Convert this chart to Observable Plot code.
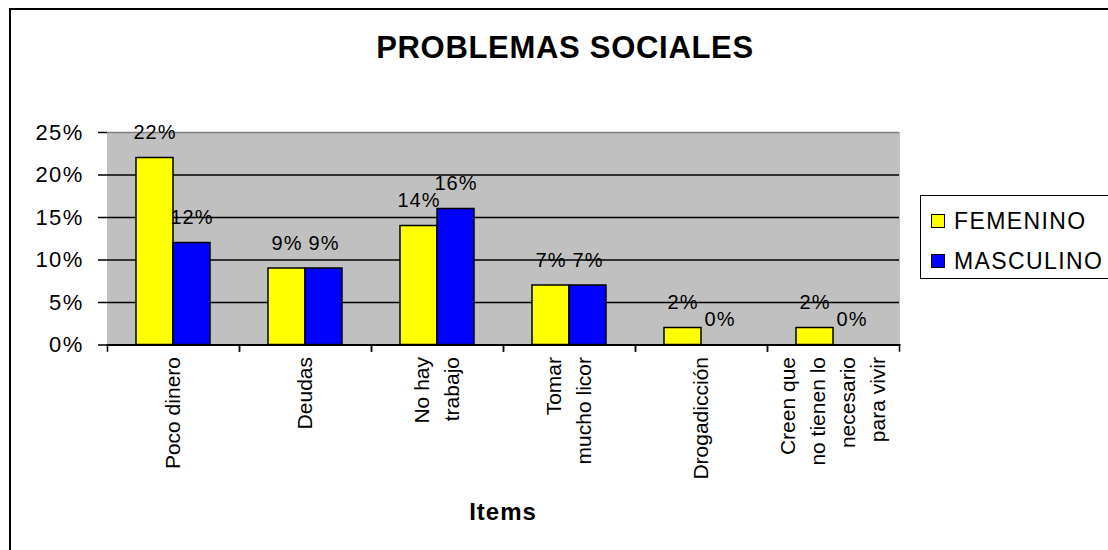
<!DOCTYPE html>
<html><head><meta charset="utf-8">
<script src="https://cdn.jsdelivr.net/npm/d3@7"></script>
<script src="https://cdn.jsdelivr.net/npm/@observablehq/plot@0.6"></script>
<style>
body{margin:0;background:#fff;font-family:"Liberation Sans",Arial,sans-serif;}
#wrap{position:relative;width:1108px;height:550px;overflow:hidden;background:#fff;}
#border{position:absolute;left:9px;top:8px;width:1200px;height:700px;border-left:2px solid #000;border-top:2px solid #000;}
#chart{position:absolute;left:0;top:0;}
#title{position:absolute;left:265px;width:600px;top:32px;line-height:31px;text-align:center;font-weight:bold;font-size:31px;letter-spacing:0.7px;color:#000;}
#xlabel{position:absolute;left:303px;width:400px;top:500px;line-height:24px;text-align:center;font-weight:bold;font-size:24px;letter-spacing:1px;color:#000;}
#legend{position:absolute;left:920px;top:195px;width:300px;height:82px;border:1.5px solid #000;background:#fff;}
.item{position:absolute;left:10px;font-size:23px;line-height:23px;color:#000;}
.sw{position:absolute;left:0;top:4px;width:12px;height:12px;border:1.5px solid #000;}
.lt{position:absolute;left:23px;top:0;white-space:nowrap;letter-spacing:1.4px;}
#chart g[aria-label="y-axis tick label"] text{letter-spacing:1.3px;}
#chart g[aria-label="text"] text{letter-spacing:1px;}
#chart g[aria-label="frame"] rect{shape-rendering:crispEdges;}
</style>
</head><body>
<div id="wrap">
  <div id="border"></div>
  <div id="chart"></div>
  <div id="title">PROBLEMAS SOCIALES</div>
  <div id="xlabel">Items</div>
  <div id="legend"></div>
</div>
<script>
const categories = ["Poco dinero", "Deudas", "No hay\ntrabajo", "Tomar\nmucho licor", "Drogadicción", "Creen que\nno tienen lo\nnecesario\npara vivir"];
const series = ["FEMENINO", "MASCULINO"];
const femenino = [22, 9, 14, 7, 2, 2];
const masculino = [12, 9, 16, 7, 0, 0];
const yTicks = [0, 5, 10, 15, 20, 25];
const gridValues = [5, 10, 15, 20];
const colors = ["#ffff00", "#0000ff"];

const data = categories.flatMap((c, i) => [
  {cat: c, sex: series[0], value: femenino[i]},
  {cat: c, sex: series[1], value: masculino[i]}
]);

const W = 1108, H = 550, mL = 107, mR = 209, mT = 132, mB = 205.5;
const innerH = H - mT - mB;

const chart = Plot.plot({
  width: W, height: H,
  marginLeft: mL, marginRight: mR, marginTop: mT, marginBottom: mB,
  style: {fontFamily: "'Liberation Sans', Arial, sans-serif", background: "transparent", overflow: "visible", color: "#000"},
  fx: {domain: categories, padding: 0, label: null},
  x: {domain: series, paddingInner: 0, paddingOuter: 0.737, axis: null},
  y: {domain: [0, 25], label: null},
  color: {domain: series, range: colors},
  marks: [
    Plot.frame({fill: "#c0c0c0", stroke: "#c0c0c0", strokeWidth: 1}),
    Plot.ruleY(gridValues, {stroke: "#000", strokeWidth: 1.5}),
    Plot.ruleY([25], {stroke: "#808080", strokeWidth: 1.5}),
    Plot.barY(data, {fx: "cat", x: "sex", y: "value", fill: "sex", stroke: "#000", strokeWidth: 1.5}),
    Plot.text(data, {fx: "cat", x: "sex", y: "value", text: d => d.value + "%", dy: -25, fontSize: 20, fill: "#000"}),
    Plot.axisY({ticks: yTicks, tickFormat: d => d + "%", tickSize: 9, tickPadding: 15, fontSize: 22, stroke: "#000", strokeWidth: 1.5, line: true, label: null}),
    Plot.axisY({anchor: "right", ticks: [], tickSize: 0, line: true, stroke: "#808080", strokeWidth: 1.5, label: null}),
    Plot.frame({anchor: "bottom", stroke: "#000", strokeWidth: 2}),
    Plot.frame({anchor: "left", stroke: "#000", strokeWidth: 1.5, insetTop: innerH, insetBottom: -6}),
    Plot.frame({anchor: "right", stroke: "#000", strokeWidth: 1.5, insetTop: innerH, insetBottom: -6}),
    Plot.axisFx({anchor: "bottom", tickSize: 0, tickPadding: 12, tickRotate: -90, fontSize: 21, lineHeight: 1.43, dx: -3, label: null})
  ]
});
document.getElementById("chart").appendChild(chart);

const legend = document.getElementById("legend");
series.forEach((s, i) => {
  const item = document.createElement("div");
  item.className = "item";
  item.style.top = (14 + i * 40) + "px";
  const sw = document.createElement("div");
  sw.className = "sw";
  sw.style.background = colors[i];
  const lt = document.createElement("div");
  lt.className = "lt";
  lt.textContent = s;
  item.appendChild(sw);
  item.appendChild(lt);
  legend.appendChild(item);
});
</script>
</body></html>
